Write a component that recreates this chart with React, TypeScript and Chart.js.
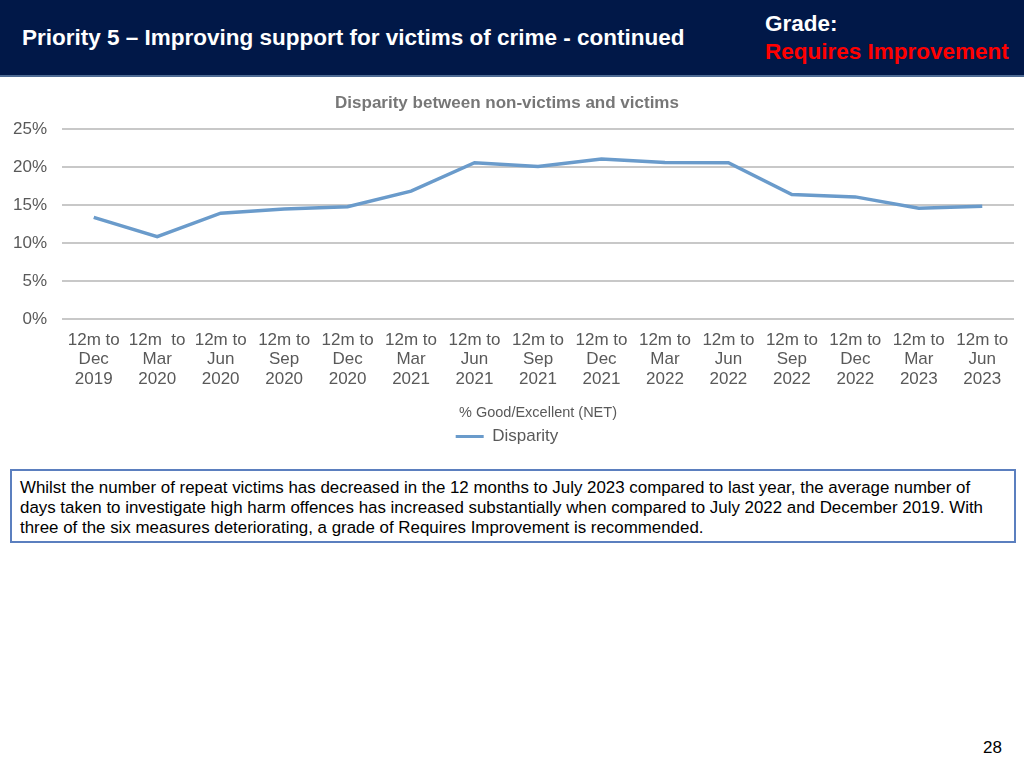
import React, { useEffect, useRef } from "react";
import { Chart, registerables } from "chart.js";

Chart.register(...registerables);

const categories: string[][] = [
  ["12m to", "Dec", "2019"],
  ["12m  to", "Mar", "2020"],
  ["12m to", "Jun", "2020"],
  ["12m to", "Sep", "2020"],
  ["12m to", "Dec", "2020"],
  ["12m to", "Mar", "2021"],
  ["12m to", "Jun", "2021"],
  ["12m to", "Sep", "2021"],
  ["12m to", "Dec", "2021"],
  ["12m to", "Mar", "2022"],
  ["12m to", "Jun", "2022"],
  ["12m to", "Sep", "2022"],
  ["12m to", "Dec", "2022"],
  ["12m to", "Mar", "2023"],
  ["12m to", "Jun", "2023"],
];

const disparity: number[] = [
  0.134, 0.1085, 0.1395, 0.145, 0.148, 0.1685, 0.206, 0.201, 0.211, 0.2065,
  0.206, 0.164, 0.161, 0.146, 0.1485,
];

const seriesName = "Disparity";
const chartTitle = "Disparity between non-victims and victims";
const xAxisTitle = "% Good/Excellent (NET)";

const FONT = "'Liberation Sans', Arial, sans-serif";

function LineChart() {
  const ref = useRef<HTMLCanvasElement | null>(null);
  useEffect(() => {
    if (!ref.current) return;
    const chart = new Chart(ref.current, {
      type: "line",
      data: {
        labels: categories,
        datasets: [
          {
            label: seriesName,
            data: disparity,
            borderColor: "#6a9bcb",
            backgroundColor: "#6a9bcb",
            borderWidth: 3.5,
            pointRadius: 0,
            tension: 0,
          },
        ],
      },
      options: {
        animation: false,
        responsive: false,
        maintainAspectRatio: false,
        layout: { padding: { left: 0, right: 10, top: 0, bottom: 0 } },
        plugins: {
          title: {
            display: true,
            text: chartTitle,
            color: "#777777",
            font: { family: FONT, size: 17, weight: "bold" },
            padding: { top: 8, bottom: 16 },
          },
          legend: {
            display: true,
            position: "bottom",
            labels: {
              color: "#595959",
              font: { family: FONT, size: 17 },
              boxWidth: 28,
              boxHeight: 3,
              padding: 4,
              generateLabels: () => [
                {
                  text: seriesName,
                  fillStyle: "#6a9bcb",
                  strokeStyle: "#6a9bcb",
                  lineWidth: 0,
                  fontColor: "#595959",
                  datasetIndex: 0,
                },
              ],
            },
          },
          tooltip: { enabled: false },
        },
        scales: {
          x: {
            offset: true,
            grid: { display: false, drawTicks: false },
            border: { display: false },
            ticks: {
              color: "#595959",
              font: { family: FONT, size: 17, lineHeight: 1.13 },
              maxRotation: 0,
              minRotation: 0,
              autoSkip: false,
              padding: 12,
            },
            title: {
              display: true,
              text: xAxisTitle,
              color: "#595959",
              font: { family: FONT, size: 14.5 },
              padding: { top: 4, bottom: 2 },
            },
          },
          y: {
            min: 0,
            max: 0.25,
            afterFit: (scale: any) => {
              scale.width = 62;
            },
            grid: { color: "#c8c8c8", lineWidth: 2, drawTicks: false },
            border: { display: false },
            ticks: {
              stepSize: 0.05,
              color: "#595959",
              font: { family: FONT, size: 17 },
              padding: 15,
              callback: (v: any) => Math.round(Number(v) * 100) + "%",
            },
          },
        },
      },
    });
    return () => chart.destroy();
  }, []);
  return <canvas ref={ref} width={1024} height={370} style={{ display: "block" }} />;
}

export default function App() {
  const headText: React.CSSProperties = {
    position: "absolute",
    fontWeight: "bold",
    fontSize: 22.5,
    lineHeight: "28px",
    whiteSpace: "nowrap",
  };
  return (
    <div
      style={{
        position: "absolute",
        left: 0,
        top: 0,
        width: 1024,
        height: 768,
        background: "#ffffff",
        fontFamily: FONT,
        overflow: "hidden",
      }}
    >
      <div
        style={{
          position: "absolute",
          left: 0,
          top: 0,
          width: 1024,
          height: 75,
          background: "#011848",
          borderBottom: "2px solid #4d6a93",
        }}
      />
      <div style={{ ...headText, left: 22, top: 24, color: "#ffffff" }}>
        Priority 5 – Improving support for victims of crime - continued
      </div>
      <div style={{ ...headText, left: 765, top: 10, color: "#ffffff" }}>Grade:</div>
      <div style={{ ...headText, left: 765, top: 38, color: "#ff0000" }}>
        Requires Improvement
      </div>
      <div style={{ position: "absolute", left: 0, top: 85 }}>
        <LineChart />
      </div>
      <div
        style={{
          position: "absolute",
          left: 10,
          top: 469,
          width: 1002,
          height: 70,
          border: "2px solid #5b7fbf",
          boxSizing: "content-box",
          color: "#000000",
          fontSize: 16.9,
          lineHeight: "20px",
        }}
      >
        <div style={{ position: "absolute", left: 8, top: 7, right: 6 }}>
          Whilst the number of repeat victims has decreased in the 12 months to July 2023 compared to last year, the average number of
          days taken to investigate high harm offences has increased substantially when compared to July 2022 and December 2019. With
          three of the six measures deteriorating, a grade of Requires Improvement is recommended.
        </div>
      </div>
      <div
        style={{
          position: "absolute",
          left: 983,
          top: 738,
          fontSize: 17,
          color: "#000000",
        }}
      >
        28
      </div>
    </div>
  );
}
